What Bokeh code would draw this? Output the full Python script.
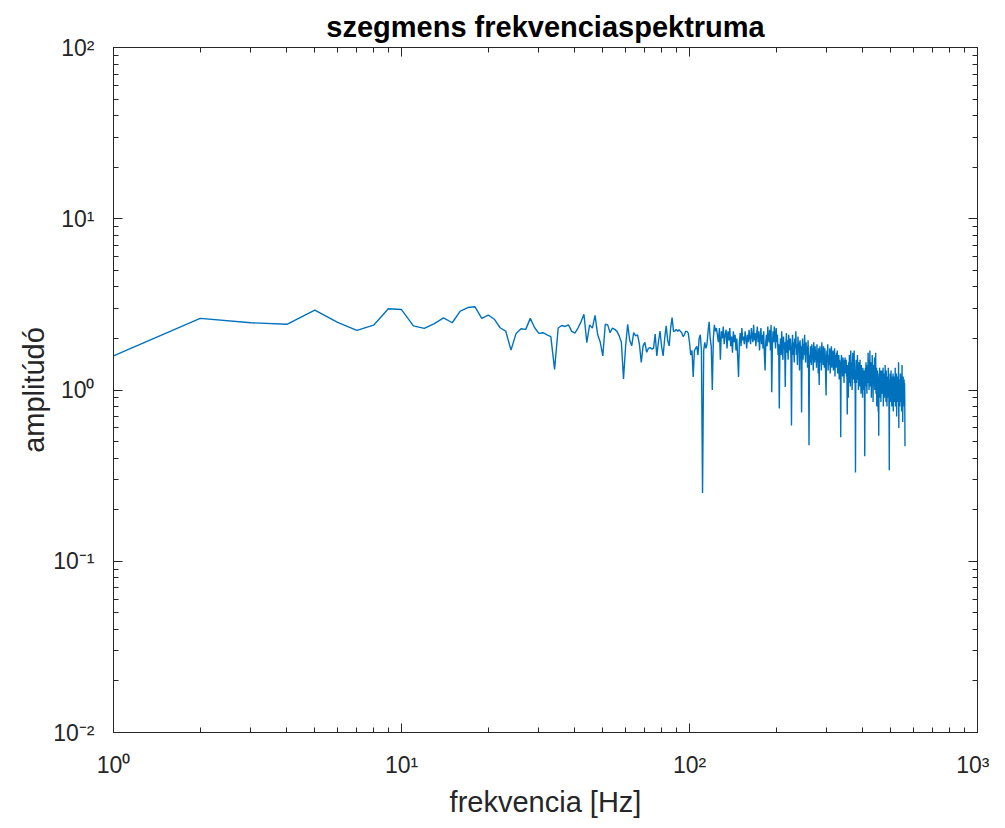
from bokeh.plotting import figure
from bokeh.models import LogAxis, FixedTicker, CustomJSTickFormatter, Range1d, ColumnDataSource
from bokeh.embed import file_html
from bokeh.resources import INLINE

# ---------------- data ----------------
amp_001_100 = [
    1.58, 2.62, 2.47, 2.42, 2.93, 2.48, 2.23, 2.39, 2.98, 2.95,
    2.37, 2.29, 2.44, 2.64, 2.47, 2.89, 3.03, 3.06, 2.62, 2.74,
    2.59, 2.31, 2.21, 1.71, 2.14, 2.28, 2.26, 2.62, 2.31, 2.14,
    2.16, 2.10, 2.05, 1.32, 2.30, 2.38, 2.35, 2.40, 2.20, 2.15,
    2.30, 2.50, 2.77, 1.89, 2.40, 2.30, 2.73, 2.10, 1.90, 1.58,
    2.42, 2.40, 2.16, 2.30, 2.26, 2.20, 2.07, 1.90, 1.16, 1.80,
    2.42, 1.95, 1.81, 2.16, 2.07, 2.10, 1.85, 1.45, 1.81, 1.90,
    1.66, 1.75, 1.77, 1.73, 1.75, 2.12, 1.58, 1.90, 2.21, 1.80,
    1.58, 2.00, 2.37, 1.95, 1.81, 2.30, 2.65, 2.20, 2.21, 2.26,
    2.20, 2.25, 2.20, 2.16, 2.05, 2.10, 2.20, 2.20, 2.15, 1.90,
]
amp_101_200 = [
    1.60, 1.70, 1.19, 1.70, 1.75, 1.80, 1.60, 2.00, 2.10, 1.70,
    0.25, 1.70, 1.90, 1.75, 1.85, 2.20, 2.50, 2.00, 1.80, 1.00,
    2.00, 2.40, 2.20, 2.30, 2.10, 1.90, 2.30, 1.50, 2.20, 2.00,
    2.35, 1.85, 2.10, 2.25, 1.75, 2.20, 1.95, 2.30, 1.80, 2.05,
    1.65, 2.20, 1.90, 2.10, 1.70, 2.00, 1.55, 1.19, 1.90, 2.15,
    1.80, 2.30, 1.95, 2.05, 1.85, 2.20, 2.00, 1.75, 2.10, 1.90,
    2.25, 2.00, 1.85, 2.30, 2.05, 1.90, 2.40, 1.95, 2.15, 1.80,
    2.10, 2.35, 1.90, 2.20, 1.70, 2.05, 2.30, 1.85, 2.10, 1.75,
    2.20, 1.60, 1.30, 1.90, 2.10, 1.80, 2.35, 2.00, 1.90, 2.25,
    1.70, 2.40, 0.97, 1.80, 2.20, 1.90, 2.35, 2.05, 1.75, 2.30,
]
amp_201_300 = [
    1.90, 2.10, 1.60, 1.85, 0.78, 1.70, 2.00, 1.60, 2.20, 1.80,
    1.50, 2.05, 1.75, 1.90, 1.04, 1.80, 2.15, 1.65, 1.95, 1.50,
    2.10, 1.85, 1.70, 2.00, 1.55, 0.62, 1.80, 2.10, 1.60, 1.90,
    1.45, 2.00, 1.75, 2.20, 1.60, 1.85, 1.40, 2.05, 1.70, 1.90,
    1.30, 1.95, 1.65, 1.80, 0.74, 1.75, 2.00, 1.50, 1.85, 1.60,
    2.10, 1.70, 1.45, 1.90, 1.65, 1.80, 1.35, 1.95, 1.55, 0.475,
    1.60, 1.45, 1.80, 1.70, 1.40, 1.85, 1.55, 1.75, 1.30, 1.90,
    1.60, 1.45, 1.80, 1.50, 1.70, 1.35, 1.85, 1.55, 1.65, 1.25,
    1.75, 1.07, 1.60, 1.80, 1.45, 1.70, 1.30, 1.90, 1.55, 1.65,
    1.40, 1.80, 1.50, 1.35, 1.75, 1.60, 1.20, 0.93, 1.50, 1.70,
]
amp_301_400 = [
    1.45, 1.85, 1.30, 1.60, 1.55, 1.40, 1.75, 1.25, 1.65, 1.50,
    1.80, 1.35, 1.60, 1.45, 1.70, 1.30, 1.55, 1.40, 1.75, 1.20,
    1.60, 1.50, 1.35, 1.65, 1.45, 1.70, 1.25, 1.55, 1.40, 1.60,
    1.15, 1.50, 1.35, 1.45, 0.53, 1.40, 1.60, 1.30, 1.50, 1.20,
    1.55, 1.35, 1.45, 1.10, 1.50, 1.30, 1.55, 1.25, 1.40, 1.50,
    1.20, 1.35, 0.72, 1.40, 1.30, 0.90, 1.45, 1.10, 1.60, 1.25,
    1.40, 1.05, 1.70, 1.30, 1.20, 1.45, 1.00, 1.35, 1.65, 1.15,
    1.40, 1.25, 1.70, 1.10, 1.30, 1.20, 0.33, 1.35, 1.50, 1.10,
    1.40, 1.25, 1.60, 1.15, 1.35, 1.00, 1.45, 1.20, 1.30, 1.05,
    1.50, 1.15, 1.25, 0.95, 1.40, 1.10, 1.30, 1.20, 0.90, 1.35,
]
amp_401_500 = [
    1.15, 1.25, 1.00, 1.30, 1.10, 0.41, 1.20, 1.35, 1.05, 1.45,
    1.15, 1.30, 0.95, 1.25, 1.40, 1.10, 1.65, 1.20, 1.35, 1.00,
    1.50, 1.15, 1.70, 1.05, 1.30, 1.20, 1.45, 0.90, 1.35, 1.10,
    1.60, 1.15, 1.25, 0.85, 1.40, 1.05, 1.30, 1.20, 1.55, 1.00,
    1.25, 1.10, 1.65, 0.95, 1.20, 1.35, 0.80, 1.15, 1.30, 1.05,
    1.20, 0.75, 1.10, 0.54, 1.25, 1.00, 1.35, 0.90, 1.15, 1.05,
    1.30, 0.85, 1.20, 1.00, 1.10, 1.30, 0.95, 1.20, 1.05, 1.35,
    0.80, 1.15, 1.00, 1.25, 0.90, 1.20, 1.05, 1.40, 0.95, 1.10,
    0.85, 1.30, 1.00, 1.15, 0.80, 1.20, 1.05, 1.10, 0.90, 1.35,
    0.95, 1.15, 0.70, 0.34, 1.10, 0.90, 1.25, 1.00, 1.15, 0.85,
]
amp_501_560 = [
    1.30, 0.95, 1.05, 0.80, 1.20, 1.00, 1.10, 0.90, 1.25, 0.75,
    1.05, 1.15, 0.85, 1.20, 0.95, 1.10, 1.00, 1.35, 0.80, 1.15,
    0.90, 1.05, 1.25, 0.70, 1.10, 0.95, 1.20, 0.85, 1.00, 1.15,
    0.90, 1.45, 0.60, 1.05, 0.95, 1.15, 0.80, 1.10, 1.00, 1.25,
    0.85, 1.05, 0.90, 1.20, 0.75, 1.00, 1.40, 0.90, 1.10, 0.65,
    1.05, 1.20, 0.85, 1.00, 0.95, 1.15, 0.80, 1.10, 0.90, 0.47,
]
amplitude = amp_001_100 + amp_101_200 + amp_201_300 + amp_301_400 + amp_401_500 + amp_501_560
frequency = list(range(1, len(amplitude) + 1))  # 1 Hz resolution

x_major_ticks = [1, 10, 100, 1000]
y_major_ticks = [0.01, 0.1, 1, 10, 100]
tick_label_by_exponent = {"-2": "10⁻²", "-1": "10⁻¹", "0": "10⁰", "1": "10¹", "2": "10²", "3": "10³"}
title_text = "szegmens frekvenciaspektruma"
x_label = "frekvencia [Hz]"
y_label = "amplitúdó"

# ---------------- figure ----------------
AX = "#262626"
FONT = "Liberation Sans"

x_minor = [m * 10 ** e for e in range(0, 3) for m in range(2, 10)]
y_minor = [m * 10.0 ** e for e in range(-2, 2) for m in range(2, 10)]

p = figure(width=989, height=820, x_axis_type="log", y_axis_type="log",
           x_range=Range1d(1, 1000), y_range=Range1d(0.01, 100),
           output_backend="svg", toolbar_location=None, title=title_text,
           min_border_left=113, min_border_right=12, min_border_top=47, min_border_bottom=85)
p.background_fill_color = "white"
p.border_fill_color = "white"
p.outline_line_color = AX
p.outline_line_width = 1
p.xgrid.visible = False
p.ygrid.visible = False

p.title.align = "center"
p.title.text_font = FONT
p.title.text_font_size = "29px"
p.title.text_font_style = "bold"
p.title.text_color = "black"

label_fmt = CustomJSTickFormatter(args=dict(labels=tick_label_by_exponent),
                                  code="return labels[String(Math.round(Math.log10(tick)))] || '';")
blank_fmt = CustomJSTickFormatter(code="return '';")

def style_axis(ax):
    ax.major_tick_in = 9
    ax.major_tick_out = 0
    ax.minor_tick_in = 5
    ax.minor_tick_out = 0
    ax.axis_line_color = AX
    ax.major_tick_line_color = AX
    ax.minor_tick_line_color = AX
    ax.major_label_text_font = FONT
    ax.major_label_text_font_size = "23px"
    ax.major_label_text_color = AX
    ax.axis_label_text_font = FONT
    ax.axis_label_text_font_size = "29px"
    ax.axis_label_text_font_style = "normal"
    ax.axis_label_text_color = AX

xt = FixedTicker(ticks=x_major_ticks, minor_ticks=x_minor)
yt = FixedTicker(ticks=y_major_ticks, minor_ticks=y_minor)

p.xaxis.ticker = xt
p.yaxis.ticker = yt
p.xaxis.formatter = label_fmt
p.yaxis.formatter = label_fmt
p.xaxis.axis_label = x_label
p.yaxis.axis_label = y_label
for ax in p.xaxis + p.yaxis:
    style_axis(ax)
p.xaxis.major_label_standoff = 19
p.yaxis.major_label_standoff = 19
p.xaxis.axis_label_standoff = 5
p.yaxis.axis_label_standoff = 0

top_ax = LogAxis(ticker=FixedTicker(ticks=x_major_ticks, minor_ticks=x_minor), formatter=blank_fmt,
                 major_label_standoff=0)
right_ax = LogAxis(ticker=FixedTicker(ticks=y_major_ticks, minor_ticks=y_minor), formatter=blank_fmt,
                   major_label_standoff=0)
style_axis(top_ax)
style_axis(right_ax)
top_ax.major_label_text_font_size = "0px"
right_ax.major_label_text_font_size = "0px"
p.add_layout(top_ax, "above")
p.add_layout(right_ax, "right")

src = ColumnDataSource(data=dict(f=frequency, a=amplitude))
p.line("f", "a", source=src, line_color="#0072BD", line_width=1.4)

open("out.html", "w").write(file_html(p, INLINE))
